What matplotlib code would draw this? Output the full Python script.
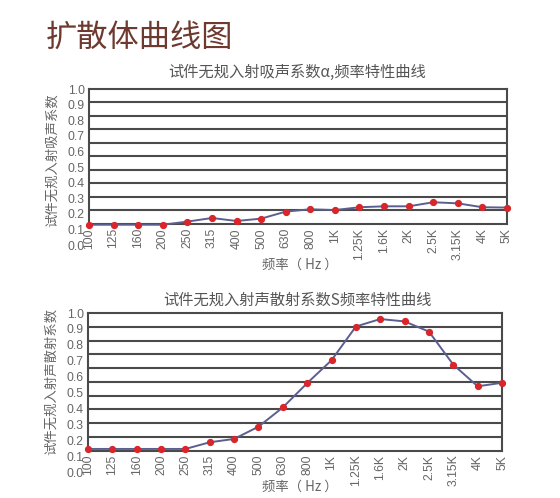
import matplotlib
matplotlib.use("Agg")
import matplotlib.pyplot as plt
import numpy as np

plt.rcParams['font.family'] = ['Noto Sans CJK SC', 'DejaVu Sans']

freq_labels = ["100", "125", "160", "200", "250", "315", "400", "500", "630", "800",
               "1K", "1.25K", "1.6K", "2K", "2.5K", "3.15K", "4K", "5K"]
alpha_vals = [0.13, 0.13, 0.13, 0.13, 0.15, 0.173, 0.154, 0.169, 0.214, 0.229,
              0.224, 0.242, 0.248, 0.248, 0.274, 0.267, 0.242, 0.24]
s_vals = [0.145, 0.145, 0.145, 0.145, 0.145, 0.187, 0.208, 0.285, 0.406, 0.559,
          0.703, 0.915, 0.962, 0.947, 0.883, 0.675, 0.539, 0.561]
y_tick_vals = [0.0, 0.1, 0.2, 0.3, 0.4, 0.5, 0.6, 0.7, 0.8, 0.9, 1.0]
frame_bottom = 0.135

main_title = "扩散体曲线图"
title_a = "试件无规入射吸声系数α,频率特性曲线"
title_s = "试件无规入射声散射系数S频率特性曲线"
ylabel_a = "试件无规入射吸声系数"
ylabel_s = "试件无规入射声散射系数"
xlabel = "频率（ Hz ）"

W, H = 560, 498
fig = plt.figure(figsize=(W / 100, H / 100), dpi=100)
fig.patch.set_facecolor("white")

grid_col = "#4a4a4a"
txt_col = "#666666"
line_col = "#5b5f90"
mark_col = "#d8262a"
tick_font = ['Liberation Sans', 'DejaVu Sans']


def px_axes(left, top, right, bottom):
    return fig.add_axes([left / W, 1 - bottom / H, (right - left) / W, (bottom - top) / H])


def draw(ax, vals, title, ylab, title_y, ylab_x, xlab_y):
    x = np.arange(len(freq_labels))
    ax.set_xlim(0, len(freq_labels) - 1)
    ax.set_ylim(0.0, 1.0)
    for s in ax.spines.values():
        s.set_color(grid_col)
        s.set_linewidth(1.5)
    ax.spines['left'].set_bounds(frame_bottom, 1.0)
    ax.spines['right'].set_bounds(frame_bottom, 1.0)
    ax.spines['bottom'].set_position(('data', frame_bottom))
    for gy in np.linspace(frame_bottom, 1.0, 11)[1:-1]:
        ax.axhline(gy, color=grid_col, lw=1.5, zorder=1)
    ax.set_yticks(y_tick_vals)
    ax.set_yticklabels([f"{v:.1f}" for v in y_tick_vals], family=tick_font,
                       fontsize=8.8, color=txt_col)
    ax.set_xticks(x)
    ax.set_xticklabels(freq_labels, rotation=90, family=tick_font,
                       fontsize=8.8, color=txt_col)
    ax.tick_params(axis='both', length=0)
    ax.tick_params(axis='y', pad=3)
    ax.tick_params(axis='x', pad=3)
    ax.plot(x, vals, color=line_col, lw=1.4, zorder=3, clip_on=False)
    ax.plot(x, vals, linestyle='none', marker='o', markersize=4.2,
            color=mark_col, zorder=4, clip_on=False)
    fig.text(297 / W, 1 - title_y / H, title, ha='center', va='center',
             fontsize=11, color="#555555")
    fig.text(ylab_x / W, 1 - ylab[1] / H, ylab[0], rotation=90, ha='center',
             va='center', fontsize=9.6, color=txt_col)
    fig.text(300 / W, 1 - xlab_y / H, xlabel, ha='center', va='center',
             fontsize=9.6, color=txt_col)


ax1 = px_axes(89, 89, 507, 245)
draw(ax1, alpha_vals, title_a, (ylabel_a, 160), 72, 52, 265)

ax2 = px_axes(88, 313, 502, 472)
draw(ax2, s_vals, title_s, (ylabel_s, 381), 300, 51, 487)

fig.text(46 / W, 1 - 38 / H, main_title, ha='left', va='center',
         fontsize=22.5, color="#6e3a30")

fig.savefig("out.png", dpi=100, facecolor="white")
